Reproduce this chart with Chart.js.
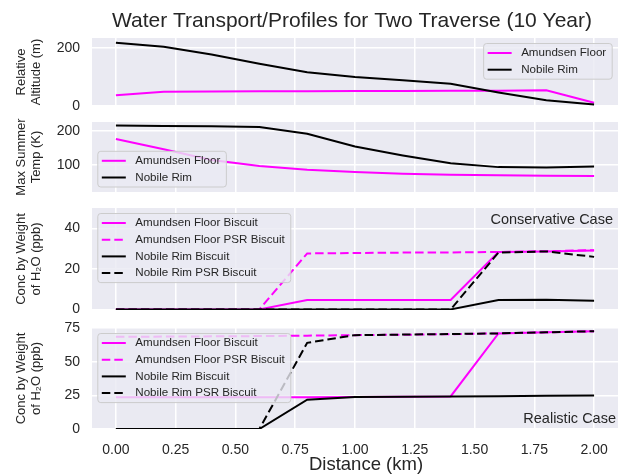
<!DOCTYPE html>
<html>
<head>
<meta charset="utf-8">
<script src="https://cdn.jsdelivr.net/npm/chart.js@4"></script>
<style>
  body { margin: 0; background: #fff; }
  #wrap { position: relative; width: 625px; height: 475px; overflow: hidden; }
  canvas { position: absolute; left: 0; }
</style>
</head>
<body>
<div id="wrap">
  <canvas id="alt" width="625" height="128" style="top:0px"></canvas>
  <canvas id="temp" width="625" height="114" style="top:100px"></canvas>
  <canvas id="cons" width="625" height="146" style="top:186px"></canvas>
  <canvas id="real" width="625" height="169" style="top:306px"></canvas>
</div>
<script>
// distance along the traverse (km)
const distance = [0, 0.2, 0.4, 0.6, 0.8, 1.0, 1.2, 1.4, 1.6, 1.8, 2.0];
const xTicks = [0, 0.25, 0.5, 0.75, 1.0, 1.25, 1.5, 1.75, 2.0];

// relative altitude (m)
const altAmundsen = [37, 49, 50, 51, 51, 52, 52, 53, 53, 54, 11];
const altNobile = [219, 205, 178, 146, 117, 100, 89, 77, 47, 20, 5];
const altTicks = [0, 200];

// max summer temperature (K)
const tempAmundsen = [176, 146, 115, 97, 86, 80, 75, 72, 70, 69, 68];
const tempNobile = [215, 214, 213, 211, 191, 154, 128, 105, 94, 93, 96];
const tempTicks = [100, 200];

// conservative case (ppb)
const consAmundsen = [0, 0, 0, 0, 4.6, 4.6, 4.6, 4.6, 28.3, 28.6, 29];
const consAmundsenPSR = [0, 0, 0, 0, 27.6, 27.8, 28, 28.1, 28.3, 28.7, 29.2];
const consNobile = [0, 0, 0, 0, 0, 0, 0, 0, 4.6, 4.7, 4.2];
const consNobilePSR = [0, 0, 0, 0, 0, 0, 0, 0, 28, 28.6, 25.9];
const consTicks = [0, 20, 40];

// realistic case (ppb)
const realAmundsen = [23.5, 23.5, 23.5, 23.5, 23.6, 23.8, 24, 24.2, 71, 71.8, 72.6];
const realAmundsenPSR = [68.5, 68.6, 68.8, 69, 69.3, 69.7, 70, 70.4, 71, 71.8, 72.6];
const realNobile = [0, 0, 0, 0, 21.8, 23.8, 24, 24.2, 24.4, 24.7, 24.9];
const realNobilePSR = [0, 0, 0, 0, 64, 69.7, 70.1, 70.5, 71, 71.8, 72.6];
const realTicks = [0, 25, 50, 75];

const FONT = '"Liberation Sans", Arial, sans-serif';
const INK = '#262626';
const MAGENTA = '#FF00FF';
const DASH = [8.5, 4];

// axes background like seaborn darkgrid
const panelBg = {
  id: 'panelBg',
  beforeDraw(chart) {
    const { ctx, chartArea: a } = chart;
    ctx.save();
    ctx.fillStyle = '#EAEAF2';
    ctx.fillRect(a.left, a.top, a.right - a.left, a.bottom - a.top);
    ctx.restore();
  }
};

// matplotlib style legend box inside the axes
const boxLegend = {
  id: 'boxLegend',
  afterDatasetsDraw(chart, args, opts) {
    const { ctx, chartArea: a } = chart;
    const items = chart.data.datasets;
    ctx.save();
    ctx.font = '11.6px ' + FONT;
    const textW = Math.max(...items.map(d => ctx.measureText(d.label).width));
    const w = 4.5 + 24 + 9.5 + textW + 5.5;
    const h = 19 + (items.length - 1) * 16.7;
    const x = opts.corner.includes('right') ? a.right - 6.3 - w : a.left + 5.3;
    const y = opts.corner.includes('lower') ? a.bottom - 5.5 - h : a.top + 5;
    ctx.beginPath();
    ctx.roundRect(x + 0.5, y + 0.5, w, h, 3);
    ctx.fillStyle = 'rgba(234,234,242,0.8)';
    ctx.fill();
    ctx.strokeStyle = '#CCCCCC';
    ctx.lineWidth = 1;
    ctx.stroke();
    items.forEach((d, i) => {
      const cy = y + 10 + i * 16.7;
      ctx.beginPath();
      ctx.setLineDash(d.borderDash || []);
      ctx.strokeStyle = d.borderColor;
      ctx.lineWidth = d.borderWidth;
      ctx.moveTo(x + 4.5, cy);
      ctx.lineTo(x + 28.5, cy);
      ctx.stroke();
      ctx.setLineDash([]);
      ctx.fillStyle = INK;
      ctx.textBaseline = 'middle';
      ctx.textAlign = 'left';
      ctx.fillText(d.label, x + 38, cy);
    });
    ctx.restore();
  }
};

// free text: figure title, case labels, x label
const notes = {
  id: 'notes',
  afterDraw(chart, args, opts) {
    const { ctx, chartArea: a } = chart;
    ctx.save();
    (opts.items || []).forEach(n => {
      const [x, y] = n.pos(a);
      ctx.font = n.size + 'px ' + FONT;
      ctx.fillStyle = INK;
      ctx.textAlign = n.align || 'center';
      ctx.textBaseline = 'middle';
      ctx.fillText(n.text, x, y);
    });
    ctx.restore();
  }
};

function series(label, values, color, dashed) {
  return {
    label,
    data: distance.map((x, i) => ({ x, y: values[i] })),
    borderColor: color,
    borderWidth: 2,
    borderDash: dashed ? DASH : [],
    pointRadius: 0,
    tension: 0,
    fill: false
  };
}

function xAxis(withLabels) {
  return {
    type: 'linear',
    min: -0.1,
    max: 2.1,
    afterBuildTicks: s => { s.ticks = xTicks.map(v => ({ value: v })); },
    afterFit: s => { s.height = withLabels ? 46 : 0; },
    grid: { color: '#FFFFFF', lineWidth: 1.5, drawTicks: false },
    border: { display: false },
    ticks: {
      display: withLabels,
      padding: 13,
      maxRotation: 0,
      color: INK,
      font: { family: FONT, size: 14 },
      callback: v => v.toFixed(2)
    }
  };
}

function yAxis(min, max, ticks, title) {
  return {
    min,
    max,
    afterBuildTicks: s => { s.ticks = ticks.map(v => ({ value: v })); },
    afterFit: s => { s.width = 92; },
    grid: { color: '#FFFFFF', lineWidth: 1.5, drawTicks: false },
    border: { display: false },
    ticks: { padding: 12, color: INK, font: { family: FONT, size: 14 } },
    title: {
      display: true,
      text: title,
      color: INK,
      font: { family: FONT, size: 13, lineHeight: 1.15 },
      padding: { top: 13.5, bottom: 0 }
    }
  };
}

function panel(id, datasets, y, corner, padTop, padBottom, withLabels, texts) {
  // later series drawn on top, as in matplotlib
  datasets.forEach((d, i) => { d.order = -i; });
  return new Chart(document.getElementById(id), {
    type: 'line',
    data: { datasets },
    options: {
      responsive: false,
      animation: false,
      layout: { padding: { top: padTop, bottom: padBottom, left: 0, right: 7 } },
      scales: { x: xAxis(withLabels), y },
      plugins: {
        legend: { display: false },
        tooltip: { enabled: false },
        boxLegend: { corner },
        notes: { items: texts }
      }
    },
    plugins: [panelBg, boxLegend, notes]
  });
}

panel('alt', [
  series('Amundsen Floor', altAmundsen, MAGENTA, false),
  series('Nobile Rim', altNobile, '#000000', false)
], yAxis(0, 235, altTicks, ['Relative', 'Altitude (m)']), 'upper right', 38, 22, false, [
  { text: 'Water Transport/Profiles for Two Traverse (10 Year)', size: 21, pos: a => [(a.left + a.right) / 2 - 3, 21] }
]);

panel('temp', [
  series('Amundsen Floor', tempAmundsen, MAGENTA, false),
  series('Nobile Rim', tempNobile, '#000000', false)
], yAxis(21.5, 225.5, tempTicks, ['Max Summer', 'Temp (K)']), 'lower left', 22, 22, false, []);

panel('cons', [
  series('Amundsen Floor Biscuit', consAmundsen, MAGENTA, false),
  series('Amundsen Floor PSR Biscuit', consAmundsenPSR, MAGENTA, true),
  series('Nobile Rim Biscuit', consNobile, '#000000', false),
  series('Nobile Rim PSR Biscuit', consNobilePSR, '#000000', true)
], yAxis(-0.3, 50, consTicks, ['Conc by Weight', 'of H\u2082O (ppb)']), 'upper left', 22, 22, false, [
  { text: 'Conservative Case', size: 14.5, align: 'right', pos: a => [a.right - 5, a.top + 11.5] }
]);

panel('real', [
  series('Amundsen Floor Biscuit', realAmundsen, MAGENTA, false),
  series('Amundsen Floor PSR Biscuit', realAmundsenPSR, MAGENTA, true),
  series('Nobile Rim Biscuit', realNobile, '#000000', false),
  series('Nobile Rim PSR Biscuit', realNobilePSR, '#000000', true)
], yAxis(0, 75, realTicks, ['Conc by Weight', 'of H\u2082O (ppb)']), 'upper left', 22, 0, true, [
  { text: 'Realistic Case', size: 14.5, align: 'right', pos: a => [a.right - 2, a.bottom - 10.5] },
  { text: 'Distance (km)', size: 18.5, pos: a => [366, 465 - 306] }
]);
</script>
</body>
</html>
